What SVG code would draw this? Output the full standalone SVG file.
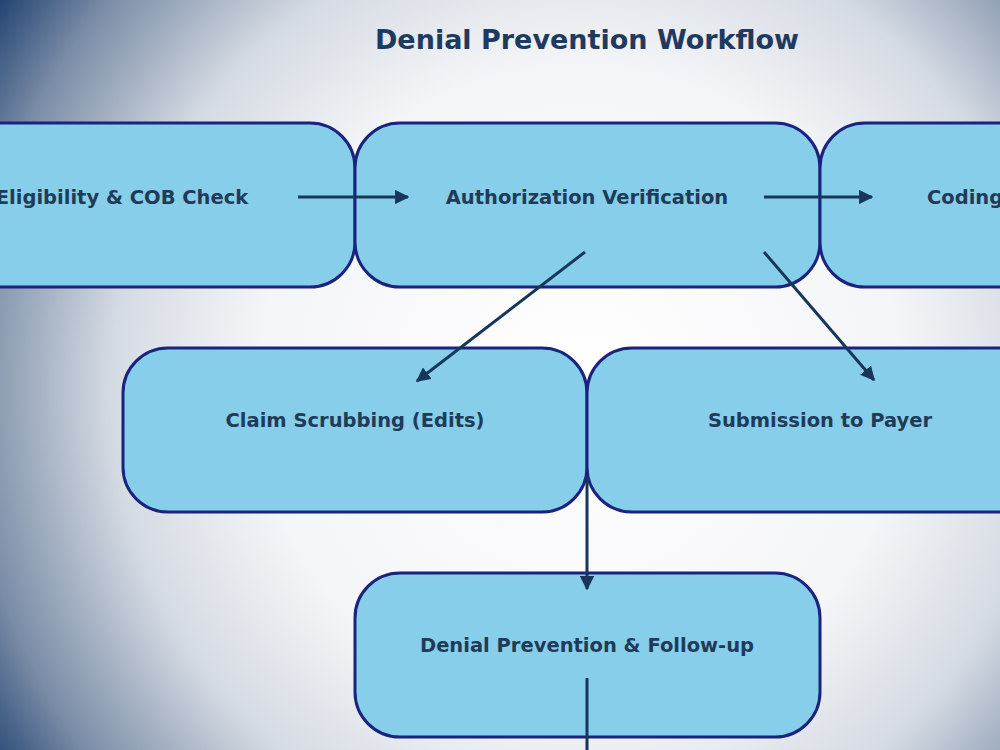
<svg xmlns="http://www.w3.org/2000/svg" width="1000" height="750" viewBox="0 0 1000 750">
<defs>
<radialGradient id="bg" gradientUnits="userSpaceOnUse" cx="580" cy="390" r="720">
<stop offset="0" stop-color="#ffffff"/>
<stop offset="0.45" stop-color="#f4f5f7"/>
<stop offset="0.65" stop-color="#d5dbe3"/>
<stop offset="0.85" stop-color="#7a8ca6"/>
<stop offset="1" stop-color="#0d3366"/>
</radialGradient>
<marker id="arr" viewBox="0 0 10 10" refX="9" refY="5" markerWidth="4.8" markerHeight="4.8" orient="auto" markerUnits="strokeWidth">
<path d="M0,0 L10,5 L0,10 z" fill="#17375a"/>
</marker>
<style>
.box{fill:#87ceeb;stroke:#1a237e;stroke-width:3}
.lbl{font-family:"DejaVu Sans",sans-serif;font-weight:bold;font-size:19.5px;fill:#1f3b57;text-anchor:middle}
.title{font-family:"DejaVu Sans",sans-serif;font-weight:bold;font-size:27px;fill:#1f3a5f;text-anchor:middle}
.edge{stroke:#17375a;stroke-width:3;fill:none}
</style>
</defs>
<rect width="1000" height="750" fill="url(#bg)"/>
<text class="title" x="587" y="49">Denial Prevention Workflow</text>
<g id="node-eligibility">
<rect class="box" x="-110" y="123" width="465" height="164" rx="45"/>
<text class="lbl" x="122" y="204">Eligibility &amp; COB Check</text>
</g>
<g id="node-authorization">
<rect class="box" x="355" y="123" width="465" height="164" rx="45"/>
<text class="lbl" x="587" y="204">Authorization Verification</text>
</g>
<g id="node-coding">
<rect class="box" x="820" y="123" width="465" height="164" rx="45"/>
<text class="lbl" x="927" y="204" style="text-anchor:start">Coding</text>
</g>
<g id="node-scrubbing">
<rect class="box" x="123" y="348" width="464" height="164" rx="45"/>
<text class="lbl" x="355" y="427">Claim Scrubbing (Edits)</text>
</g>
<g id="node-submission">
<rect class="box" x="587" y="348" width="465" height="164" rx="45"/>
<text class="lbl" x="820" y="427">Submission to Payer</text>
</g>
<g id="node-denial">
<rect class="box" x="355" y="573" width="465" height="164" rx="45"/>
<text class="lbl" x="587" y="652">Denial Prevention &amp; Follow-up</text>
</g>
<g id="connectors">
<line class="edge" x1="298" y1="197" x2="408" y2="197" marker-end="url(#arr)"/>
<line class="edge" x1="764" y1="197" x2="872" y2="197" marker-end="url(#arr)"/>
<line class="edge" x1="585" y1="252" x2="417" y2="381" marker-end="url(#arr)"/>
<line class="edge" x1="764" y1="252" x2="874" y2="380" marker-end="url(#arr)"/>
<line class="edge" x1="587" y1="477" x2="587" y2="589" marker-end="url(#arr)"/>
<line class="edge" x1="587" y1="678" x2="587" y2="760"/>
</g>
</svg>
